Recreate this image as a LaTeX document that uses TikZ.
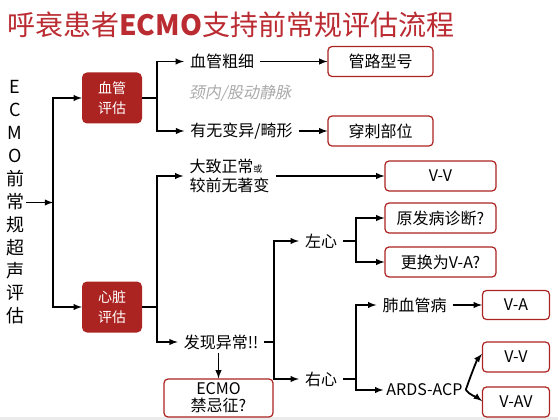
\documentclass[tikz,border=0pt]{standalone}
\usepackage{fontspec}
\setmainfont{Noto Sans CJK SC}[BoldFont={Noto Sans CJK SC Black}]
\newfontfamily\slantcjk{Noto Sans CJK SC}[FakeSlant=0.2]
\usetikzlibrary{positioning}
\definecolor{darkred}{RGB}{172,36,34}
\definecolor{titlered}{RGB}{186,44,50}
\definecolor{notegray}{RGB}{170,170,170}

\tikzset{
  redbox/.style={fill=darkred, text=white, rounded corners=5pt, minimum width=60pt,
    minimum height=51pt, align=center, font=\fontsize{14}{20}\selectfont},
  outbox/.style={draw=darkred, line width=1.2pt, rounded corners=4pt, fill=white,
    minimum width=111pt, minimum height=30pt, font=\fontsize{16}{18}\selectfont},
  txt/.style={font=\fontsize{16}{19}\selectfont, inner xsep=6pt, inner ysep=3pt},
  arr/.style={->, >=latex, line width=1.8pt},
  ln/.style={line width=1.8pt}
}

\begin{document}
\begin{tikzpicture}[x=1pt, y=-1pt]
		\useasboundingbox (0,0) rectangle (558,420);
		\fill[black!8] (0,417) rectangle (558,420);

		\node[titlered, anchor=west, inner sep=0pt, font=\fontsize{28}{32}\selectfont] (T) at (7,25) {呼衰患者\textbf{ECMO}支持前常规评估流程};
		\node[align=center, inner sep=2pt, font=\fontsize{18}{22.9}\selectfont] (S) at (15,202.5) {E\\C\\M\\O\\前\\常\\规\\超\\声\\评\\估};
		\coordinate (J0) at (53,202.5);

		\node[redbox] (V) at (112,98) {血管\\评估};
		\node[redbox] (H) at (112,307) {心脏\\评估};

		\draw[arr] (S.east) -- (J0);
		\draw[arr] (J0) |- (V);
		\draw[arr] (J0) |- (H);

		% vessels
		\coordinate (J1) at (157,98);
		\node[txt] (V1) at (222,61.5) {血管粗细};
		\node[txt, text=notegray] (V0) at (240,93) {\slantcjk 颈内/股动静脉};
		\node[txt] (V2) at (241.5,131) {有无变异/畸形};
		\node[outbox, minimum width=105pt] (B1) at (380.5,61.5) {管路型号};
		\node[outbox, minimum width=105pt] (B2) at (380.5,131) {穿刺部位};

		\draw[ln] (V) -- (J1);
		\draw[arr] (J1) |- (V1);
		\draw[arr] (J1) |- (V2);
		\draw[arr] (V1) -- (B1);
		\draw[arr] (V2) -- (B2);

		% heart
		\coordinate (J2) at (157,307);
		\node[txt, align=left] (H1) at (229.5,176) {大致正常{\fontsize{9}{10}\selectfont 或}\\较前无著变};
		\node[txt] (H2) at (221,342) {发现异常!!};
		\node[outbox] (B3) at (440.5,176) {V-V};
		\node[outbox, minimum width=109pt, minimum height=38pt, align=center, font=\fontsize{16}{17}\selectfont] (E) at (218.5,398) {ECMO\\禁忌征?};

		\draw[ln] (H) -- (J2);
		\draw[arr] (J2) |- (H1);
		\draw[arr] (J2) |- (H2);
		\draw[arr] (H1) -- (B3);
		\draw[arr] (H2.south -| E.north) -- (E.north);

		\coordinate (J3) at (274,342);
		\node[txt] (L) at (321,241) {左心};
		\node[txt] (R) at (321,379) {右心};
		\draw[ln] (H2) -- (J3);
		\draw[arr] (J3) |- (L);
		\draw[arr] (J3) |- (R);

		% left heart
		\coordinate (J4) at (356,241);
		\node[outbox] (B4) at (440.5,218) {原发病诊断?};
		\node[outbox] (B5) at (440.5,262) {更换为V-A?};
		\draw[ln] (L) -- (J4);
		\draw[arr] (J4) |- (B4);
		\draw[arr] (J4) |- (B5);

		% right heart
		\coordinate (J5) at (356,379);
		\node[txt] (R1) at (414.5,305) {肺血管病};
		\node[txt, inner xsep=3pt] (R2) at (424.5,390) {ARDS-ACP};
		\node[outbox, minimum width=67pt, minimum height=29pt] (B6) at (516,305) {V-A};
		\node[outbox, minimum width=67pt] (B7) at (516,357) {V-V};
		\node[outbox, minimum width=67pt] (B8) at (516,402) {V-AV};
		\draw[ln] (R) -- (J5);
		\draw[arr] (J5) |- (R1);
		\draw[arr] (J5) |- (R2);
		\draw[arr] (R1) -- (B6);
		\draw[arr] (R2.east) .. controls +(4,-12) and +(-5,6) .. ([yshift=3pt]B7.west);
		\draw[arr] (R2.east) .. controls +(4,5) and +(-4,-3) .. ([yshift=1pt]B8.west);
	\end{tikzpicture}
\end{document}
